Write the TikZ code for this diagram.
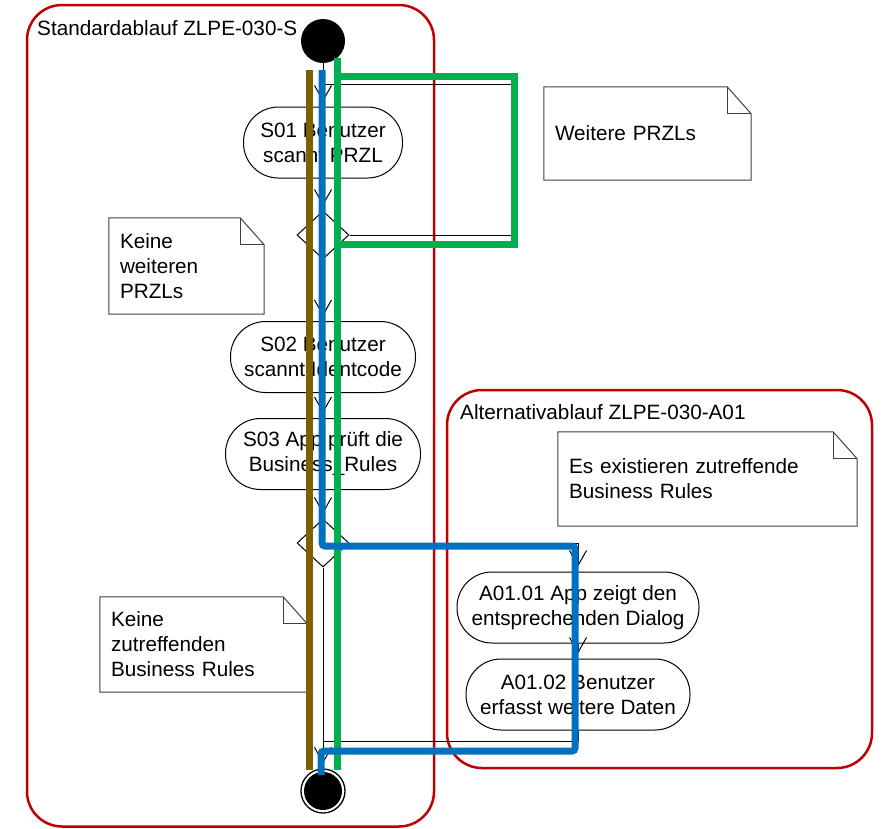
\documentclass[tikz,border=0pt]{standalone}
\usepackage{fontspec}
\setmainfont{Liberation Sans}
\usetikzlibrary{arrows.meta,shapes.geometric}
\definecolor{framered}{HTML}{C00000}
\definecolor{pathgreen}{HTML}{00B050}
\definecolor{pathblue}{HTML}{0070C0}
\definecolor{pathbrown}{HTML}{7F6000}
\definecolor{notegray}{HTML}{404040}

% outline of a UML note with a folded upper right corner
\newcommand\dognote[1]{%
  \draw[notegray, line width=1pt] (#1.north west) -- ([xshift=-24pt]#1.north east)
    -- ([yshift=-27pt]#1.north east) -- (#1.south east) -- (#1.south west) -- cycle;
  \draw[notegray, line width=1pt] ([xshift=-24pt]#1.north east) |- ([yshift=-27pt]#1.north east);}

\begin{document}
\begin{tikzpicture}[x=1pt,y=-1pt,
  every node/.style={font=\fontsize{20.7}{25}\selectfont},
  frame/.style={draw=framered, line width=2.5pt, rounded corners=35pt},
  action/.style={draw=black, fill=white, line width=1pt, rectangle,
    rounded corners=35pt, minimum height=71pt, align=center, inner sep=0pt},
  decision/.style={draw=black, fill=white, line width=1pt, diamond,
    minimum width=52pt, minimum height=48pt, inner sep=0pt},
  note/.style={rectangle, inner xsep=11pt, inner ysep=0pt, align=left},
  flow/.style={draw=black, line width=1pt,
    -{Straight Barb[length=15pt,width=17pt]}, shorten >=5pt},
  wire/.style={draw=black, line width=1pt},
  scenario/.style={line width=7pt, line join=miter},
]
\useasboundingbox (0,0) rectangle (884,828);

% swimlane-like frames for the two flows
\draw[frame] (27,5) rectangle (434,826.5);
\draw[frame] (447,390) rectangle (872,768);
\node[anchor=base west, inner sep=0pt] (stdlabel) at (37,35.5) {Standardablauf ZLPE-030-S};
\node[anchor=base west, inner sep=0pt] (altlabel) at (460,419) {Alternativablauf ZLPE-030-A01};

% initial and final nodes
\node[circle, fill=black, minimum size=44pt, inner sep=0pt] (start) at (323,41) {};
\node[circle, draw=black, line width=1.3pt, fill=white, minimum size=44pt, inner sep=0pt] (final) at (323,791) {};
\node[circle, fill=black, minimum size=38pt, inner sep=0pt] (finaldot) at (final) {};

% actions
\node[action, minimum width=159pt] (s01) at (323,142.5) {S01 Benutzer\\scannt PRZL};
\node[action, minimum width=185pt] (s02) at (323,357) {S02 Benutzer\\scannt Identcode};
\node[action, minimum width=195pt] (s03) at (323,454) {S03 App prüft die\\Business\_Rules};
\node[action, minimum width=242pt] (a1) at (578,607.5) {A01.01 App zeigt den\\entsprechenden Dialog};
\node[action, minimum width=224pt] (a2) at (578,694.5) {A01.02 Benutzer\\erfasst weitere Daten};

% decisions
\node[decision] (d1) at (323,235) {};
\node[decision] (d2) at (323,543) {};

% junction points of the control flow
\coordinate (j1) at (323,84);
\coordinate (r1) at (515,84);
\coordinate (j2) at (323,741);

% control flow
\draw[flow] (start.south) -- (s01.north);
\draw[wire] (d1.east) -| (r1) -- (j1);
\draw[flow] (s01.south) -- (d1.north);
\draw[flow] (d1.south) -- (s02.north);
\draw[flow] (s02.south) -- (s03.north);
\draw[flow] (s03.south) -- (d2.north);
\draw[flow] (d2.south) -- (final.north);
\draw[flow] (d2.east) -| (a1.north);
\draw[flow] (a1.south) -- (a2.north);
\draw[wire] (a2.south) |- (j2);

% notes
\node[note, minimum width=207pt, minimum height=93pt, text width=185pt] (n1) at (647.5,133.5) {Weitere PRZLs};
\node[note, minimum width=155pt, minimum height=96pt, text width=133pt] (n2) at (186.5,266) {Keine\\weiteren\\PRZLs};
\node[note, minimum width=207pt, minimum height=95pt, text width=185pt] (n3) at (203.5,644.5) {Keine\\zutreffenden\\Business Rules};
\node[note, minimum width=299pt, minimum height=94pt, text width=277pt] (n4) at (707.5,479) {Es existieren zutreffende\\Business Rules};
\dognote{n1}
\dognote{n2}
\dognote{n3}
\dognote{n4}

% highlighted scenario paths
\draw[scenario, pathbrown] (309,70) -- (309,770);
\draw[scenario, pathgreen] (337,58) -- (337,244) -- (514.5,244) -- (514.5,76) -- (337,76) -- (337,770);
\draw[scenario, pathblue, rounded corners=3pt] (322,70) -- (322,546) -- (575,546) -- (575,751) -- (321,751) -- (321,775);
\end{tikzpicture}
\end{document}
